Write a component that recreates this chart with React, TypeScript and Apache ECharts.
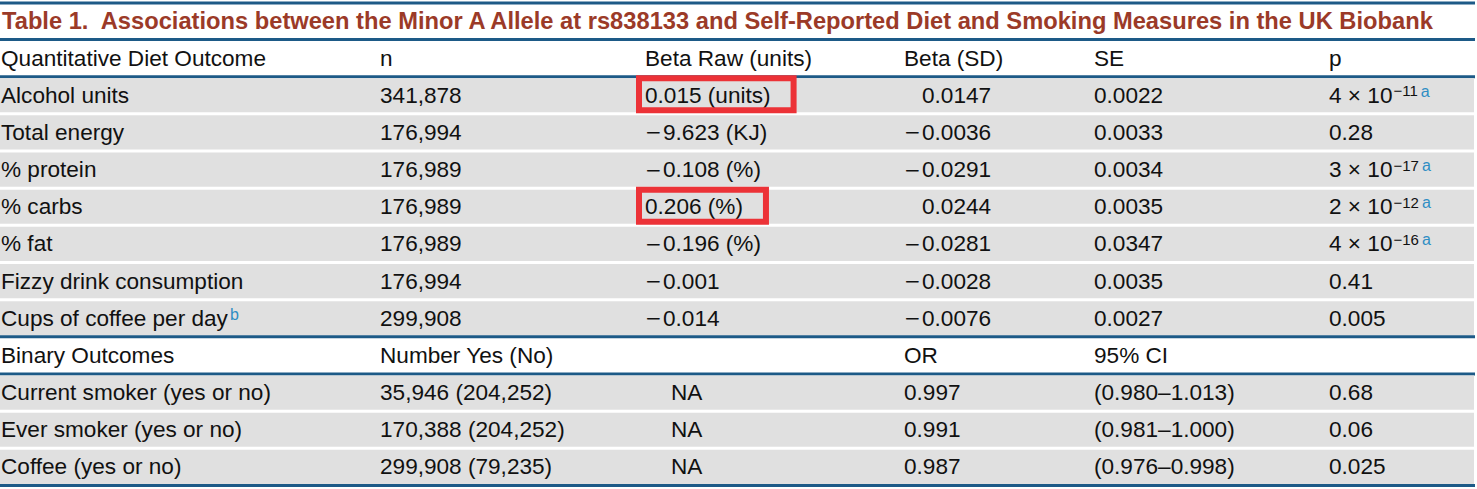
import React, { useEffect, useRef } from "react";
import * as echarts from "echarts";

const TITLE =
  "Table 1.  Associations between the Minor A Allele at rs838133 and Self-Reported Diet and Smoking Measures in the UK Biobank";

const quantHeaders = ["Quantitative Diet Outcome", "n", "Beta Raw (units)", "Beta (SD)", "SE", "p"];
const quantOutcomes = [
  "Alcohol units",
  "Total energy",
  "% protein",
  "% carbs",
  "% fat",
  "Fizzy drink consumption",
  "Cups of coffee per day",
];
const quantOutcomeNotes = ["", "", "", "", "", "", "b"];
const quantN = ["341,878", "176,994", "176,989", "176,989", "176,989", "176,994", "299,908"];
const betaRaw = ["0.015 (units)", "−9.623 (KJ)", "−0.108 (%)", "0.206 (%)", "−0.196 (%)", "−0.001", "−0.014"];
const betaSD = ["0.0147", "−0.0036", "−0.0291", "0.0244", "−0.0281", "−0.0028", "−0.0076"];
const seValues = ["0.0022", "0.0033", "0.0034", "0.0035", "0.0347", "0.0035", "0.0027"];
const pBase = ["4 × 10", "0.28", "3 × 10", "2 × 10", "4 × 10", "0.41", "0.005"];
const pExponent = ["−11", "", "−17", "−12", "−16", "", ""];
const pNotes = ["a", "", "a", "a", "a", "", ""];
const highlightedBetaRaw = [0, 3];

const binaryHeaders = ["Binary Outcomes", "Number Yes (No)", "", "OR", "95% CI", ""];
const binaryOutcomes = ["Current smoker (yes or no)", "Ever smoker (yes or no)", "Coffee (yes or no)"];
const binaryYesNo = ["35,946 (204,252)", "170,388 (204,252)", "299,908 (79,235)"];
const binaryBetaRaw = ["NA", "NA", "NA"];
const binaryOR = ["0.997", "0.991", "0.987"];
const binaryCI = ["(0.980–1.013)", "(0.981–1.000)", "(0.976–0.998)"];
const binaryP = ["0.68", "0.06", "0.025"];

const FONT = "'Liberation Sans', Arial, Helvetica, sans-serif";
const MINUS_FONT = "'DejaVu Sans', 'Liberation Sans', sans-serif";
const FS = 22.6;
const TITLE_FS = 23.7;
const TEXT = "#111111";
const BLUE_LINE = "#1d5a87";
const NOTE_BLUE = "#2f8ec4";
const TITLE_RED = "#9b3a28";
const GREY = "#e0e0e0";
const RED_BOX = "#ec3237";

const COL_X = [1, 380, 645, 904, 1094, 1329];
const NA_DX = 26;
const MINUS_W = 18;
const TABLE_RIGHT = 1475;
const GREY_RIGHT = 1474;

type Cell = { text: string; dx: number };
type Row = { kind: "header" | "data"; cells: Cell[]; highlight: number[] };

function signed(s: string, pad: boolean): Cell {
  if (s.startsWith("−")) return { text: "{m|−}" + s.slice(1), dx: 0 };
  return { text: s, dx: pad ? MINUS_W : 0 };
}
const plain = (s: string, dx = 0): Cell => ({ text: s, dx });

function buildRows(): Row[] {
  const rows: Row[] = [];
  rows.push({ kind: "header", cells: quantHeaders.map((h) => plain(h)), highlight: [] });
  quantOutcomes.forEach((o, i) => {
    const outcome = o + (quantOutcomeNotes[i] ? "{noteb|" + quantOutcomeNotes[i] + "}" : "");
    const p =
      pBase[i] +
      (pExponent[i] ? "{sup|" + pExponent[i] + "}" : "") +
      (pNotes[i] ? "{note|" + pNotes[i] + "}" : "");
    rows.push({
      kind: "data",
      cells: [plain(outcome), plain(quantN[i]), signed(betaRaw[i], false), signed(betaSD[i], true), plain(seValues[i]), plain(p)],
      highlight: highlightedBetaRaw.includes(i) ? [2] : [],
    });
  });
  rows.push({ kind: "header", cells: binaryHeaders.map((h) => plain(h)), highlight: [] });
  binaryOutcomes.forEach((o, i) => {
    rows.push({
      kind: "data",
      cells: [plain(o), plain(binaryYesNo[i]), plain(binaryBetaRaw[i], NA_DX), plain(binaryOR[i]), plain(binaryCI[i]), plain(binaryP[i])],
      highlight: [],
    });
  });
  return rows;
}

export default function App() {
  const ref = useRef<HTMLDivElement>(null);
  useEffect(() => {
    document.body.style.margin = "0";
    if (!ref.current) return;
    const chart = echarts.init(ref.current, undefined, { renderer: "svg" });
    const rows = buildRows();
    const canvas = document.createElement("canvas");
    const ctx = canvas.getContext("2d")!;
    ctx.font = `${FS}px ${FONT}`;
    const measure = (s: string) => ctx.measureText(s.replace(/\{m\|−\}/g, "−")).width;

    const rich = {
      m: { width: MINUS_W, fontSize: 20, fontFamily: MINUS_FONT, fill: TEXT, lineHeight: 24 },
      sup: { fontSize: 15, fontFamily: FONT, fill: TEXT, lineHeight: 12, verticalAlign: "top", padding: [0, 0, 0, 1] },
      note: { fontSize: 16, fontFamily: FONT, fill: NOTE_BLUE, lineHeight: 12, verticalAlign: "top", padding: [0, 0, 0, 3] },
      noteb: { fontSize: 16, fontFamily: FONT, fill: NOTE_BLUE, lineHeight: 11, verticalAlign: "top", padding: [0, 0, 0, 2] },
    };

    chart.setOption({
      animation: false,
      title: {
        text: TITLE,
        left: 2,
        top: 9,
        padding: 0,
        textStyle: { fontSize: TITLE_FS, fontWeight: "bold", color: TITLE_RED, fontFamily: FONT, lineHeight: 24 },
      },
      graphic: [
        {
          type: "line",
          shape: { x1: 0, y1: 3, x2: TABLE_RIGHT, y2: 3 },
          style: { stroke: BLUE_LINE, lineWidth: 3 },
        },
      ],
      grid: { left: 0, right: 0, top: 39.5, bottom: 489 - 485.5, containLabel: false },
      xAxis: { type: "value", min: 0, max: 1477, show: false },
      yAxis: { type: "category", data: rows.map((_, i) => String(i)), inverse: true, show: false },
      series: [
        {
          type: "custom",
          data: rows.map((_, i) => [0, i]),
          encode: { x: 0, y: 1 },
          renderItem: (params: any, api: any) => {
            const i = params.dataIndex;
            const row = rows[i];
            const c = api.coord([0, i]);
            const bandH = api.size([0, 1])[1];
            const top = c[1] - bandH / 2;
            const bottom = c[1] + bandH / 2;
            const left = c[0];
            const right = api.coord([TABLE_RIGHT, i])[0];
            const greyRight = api.coord([GREY_RIGHT, i])[0];
            const children: any[] = [];
            if (row.kind === "data") {
              children.push({
                type: "rect",
                shape: { x: left, y: top + 1.5, width: greyRight - left, height: bandH - 3 },
                style: { fill: GREY },
              });
            }
            row.cells.forEach((cell, k) => {
              if (!cell.text) return;
              const x = api.coord([COL_X[k] + cell.dx, i])[0];
              children.push({
                type: "text",
                style: {
                  text: cell.text,
                  x,
                  y: c[1],
                  fill: TEXT,
                  fontSize: FS,
                  fontFamily: FONT,
                  lineHeight: 24,
                  align: "left",
                  verticalAlign: "middle",
                  rich,
                },
              });
            });
            const hline = (y: number) => ({
              type: "line",
              shape: { x1: left, y1: y, x2: right, y2: y },
              style: { stroke: BLUE_LINE, lineWidth: 3 },
            });
            if (row.kind === "header") {
              children.push(hline(top));
              children.push(hline(bottom));
            }
            if (i === rows.length - 1) children.push(hline(bottom));
            row.highlight.forEach((k) => {
              const x0 = api.coord([COL_X[k] - 6, i])[0];
              const w = measure(row.cells[k].text) + 29;
              children.push({
                type: "rect",
                z2: 10,
                shape: { x: x0, y: top + 1.5, width: w, height: bandH - 5 },
                style: { fill: "none", stroke: RED_BOX, lineWidth: 6 },
              });
            });
            return { type: "group", children };
          },
        },
      ],
    });
    return () => chart.dispose();
  }, []);
  return <div ref={ref} style={{ width: 1477, height: 489 }} />;
}
